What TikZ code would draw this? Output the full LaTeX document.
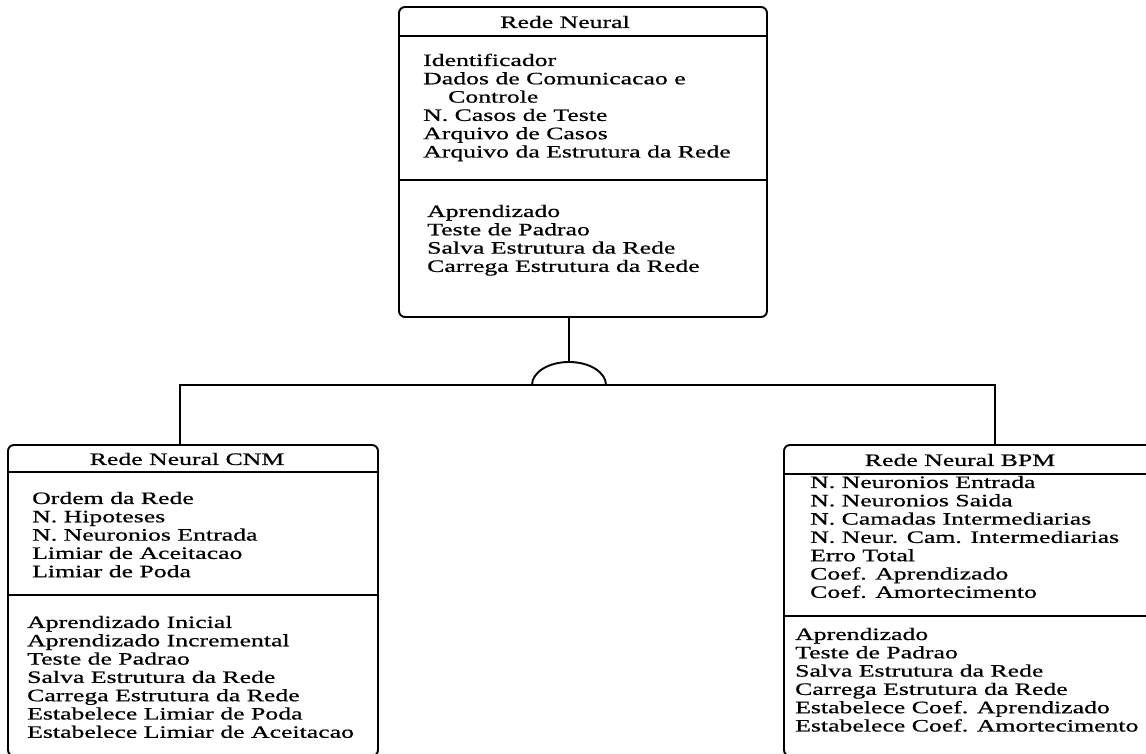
\documentclass[tikz,border=0pt]{standalone}
\usepackage{fontspec}
\setmainfont{Liberation Serif}[FakeStretch=1.48, FakeBold=0.7]
% a column of entries whose baseline is that of its first line
\newcommand\entrylist[1]{\begin{tabular}[t]{@{}l@{}}#1\end{tabular}}
\begin{document}
\begin{tikzpicture}[x=1pt,y=1pt,
  classbox/.style={draw, line width=1.9pt, rounded corners=6pt, inner sep=0pt},
  sepline/.style={line width=1.9pt},
  link/.style={line width=1.9pt},
  txt/.style={inner sep=0pt, text=black, font=\fontsize{17.4}{18.3}\selectfont},
  entries/.style={txt, anchor=base west}]
\useasboundingbox (0,0) rectangle (1146,754);
\clip (0,0) rectangle (1146,754);

% --- superclass: Rede Neural ---
\node[classbox, minimum width=368pt, minimum height=310pt] (top) at (583,592) {};
\draw[sepline] ([yshift=-30pt]top.north west) -- ([yshift=-30pt]top.north east);
\draw[sepline] ([yshift=-174pt]top.north west) -- ([yshift=-174pt]top.north east);
\node[txt] (topname) at (565,732) {Rede Neural};
\node[entries] (topattr) at (423,688) {\entrylist{Identificador\\
  Dados de Comunicacao e\\
  \hspace*{25pt}Controle\\
  N. Casos de Teste\\
  Arquivo de Casos\\
  Arquivo da Estrutura da Rede}};
\node[entries] (topops) at (427,537) {\entrylist{Aprendizado\\
  Teste de Padrao\\
  Salva Estrutura da Rede\\
  Carrega Estrutura da Rede}};

% --- subclass: Rede Neural CNM ---
\node[classbox, minimum width=370pt, minimum height=311pt] (left) at (193,153.5) {};
\draw[sepline] ([yshift=-28pt]left.north west) -- ([yshift=-28pt]left.north east);
\draw[sepline] ([yshift=-151pt]left.north west) -- ([yshift=-151pt]left.north east);
\node[txt] (leftname) at (187,295) {Rede Neural CNM};
\node[entries] (leftattr) at (32,250) {\entrylist{Ordem da Rede\\
  N. Hipoteses\\
  N. Neuronios Entrada\\
  Limiar de Aceitacao\\
  Limiar de Poda}};
\node[entries] (leftops) at (27,126) {\entrylist{Aprendizado Inicial\\
  Aprendizado Incremental\\
  Teste de Padrao\\
  Salva Estrutura da Rede\\
  Carrega Estrutura da Rede\\
  Estabelece Limiar de Poda\\
  Estabelece Limiar de Aceitacao}};

% --- subclass: Rede Neural BPM ---
\node[classbox, minimum width=376pt, minimum height=311pt] (right) at (972,153.5) {};
\draw[sepline] ([yshift=-30pt]right.north west) -- ([yshift=-30pt]right.north east);
\draw[sepline] ([yshift=-172pt]right.north west) -- ([yshift=-172pt]right.north east);
\node[txt] (rightname) at (960,294) {Rede Neural BPM};
\node[entries] (rightattr) at (810,266) {\entrylist{N. Neuronios Entrada\\
  N. Neuronios Saida\\
  N. Camadas Intermediarias\\
  N. Neur. Cam. Intermediarias\\
  Erro Total\\
  Coef. Aprendizado\\
  Coef. Amortecimento}};
\node[entries] (rightops) at (795,114) {\entrylist{Aprendizado\\
  Teste de Padrao\\
  Salva Estrutura da Rede\\
  Carrega Estrutura da Rede\\
  Estabelece Coef. Aprendizado\\
  Estabelece Coef. Amortecimento}};

% --- generalization connector ---
\coordinate (hub) at (569,369);
\coordinate (lj) at (180,369);
\coordinate (rj) at (995,369);
\draw[link] (hub |- top.south) -- ([yshift=23pt]hub);
\draw[link] ([xshift=-37pt]hub) arc[start angle=180, end angle=0, x radius=37pt, y radius=23pt];
\draw[link] (lj |- left.north) -- (lj) -- (rj) -- (rj |- right.north);
\end{tikzpicture}
\end{document}
